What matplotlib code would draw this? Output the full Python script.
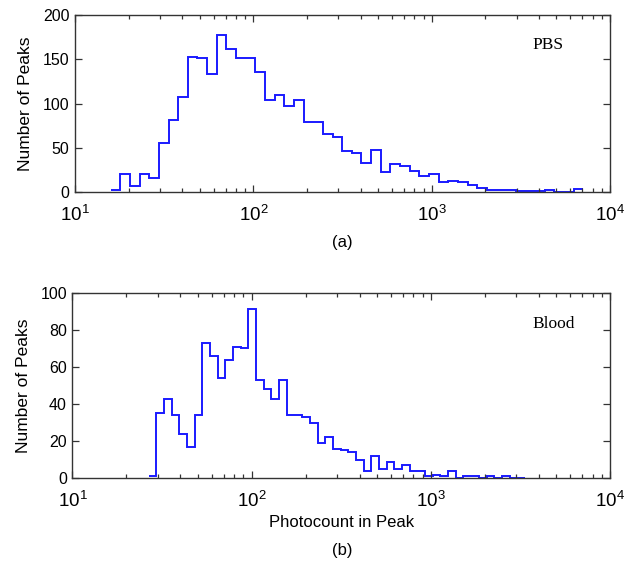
import numpy as np
import matplotlib
matplotlib.use("Agg")
from matplotlib import pyplot as plt
from matplotlib.ticker import LogLocator, NullFormatter, FuncFormatter

plt.rcParams['font.family'] = ['Liberation Sans', 'DejaVu Sans']
plt.rcParams['mathtext.fontset'] = 'custom'
plt.rcParams['mathtext.rm'] = 'Liberation Sans'

# histogram counts (log-spaced bins)
pbs_counts = [3, 20, 7, 20, 16, 55, 82, 107, 153, 151, 133, 177, 162, 151, 151,
              136, 104, 110, 97, 104, 79, 79, 66, 62, 47, 44, 33, 48, 23, 32,
              30, 24, 18, 20, 12, 13, 11, 8, 5, 2, 3, 3, 1, 1, 1, 2, 0, 0, 4]
pbs_range = (1.20, 3.85)   # log10 of first / last bin edge

blood_counts = [1, 35, 43, 34, 24, 17, 34, 73, 66, 54, 64, 71, 70, 91, 53, 48,
                43, 53, 34, 34, 33, 30, 19, 22, 16, 15, 14, 10, 4, 12, 5, 9, 5,
                7, 4, 4, 1, 2, 1, 4, 0, 1, 1, 0, 1, 0, 1, 0, 0]
blood_range = (1.425, 3.525)

panels = [
    dict(counts=pbs_counts, rng=pbs_range, label="PBS", ymax=200, ystep=50,
         pos=[0.1194, 0.661, 0.852, 0.3127], xlabel=None),
    dict(counts=blood_counts, rng=blood_range, label="Blood", ymax=100, ystep=20,
         pos=[0.1154, 0.1564, 0.856, 0.3273], xlabel="Photocount in Peak"),
]

fig = plt.figure(figsize=(6.28, 5.67), dpi=100)
pow10 = FuncFormatter(lambda v, pos: r"$\mathdefault{10^{%d}}$" % round(np.log10(v)))

for p in panels:
    ax = fig.add_axes(p["pos"])
    edges = np.logspace(p["rng"][0], p["rng"][1], len(p["counts"]) + 1)
    ax.stairs(p["counts"], edges, baseline=None, color="#1a1aff", lw=1.4)
    ax.set_xscale("log")
    ax.set_xlim(10, 1e4)
    ax.set_ylim(0, p["ymax"])
    ax.set_yticks(np.arange(0, p["ymax"] + 1, p["ystep"]))
    ax.xaxis.set_major_locator(LogLocator(base=10, numticks=10))
    ax.xaxis.set_major_formatter(pow10)
    ax.xaxis.set_minor_locator(LogLocator(base=10, subs=np.arange(2, 10), numticks=20))
    ax.xaxis.set_minor_formatter(NullFormatter())
    ax.tick_params(which="both", direction="in", top=True, right=True,
                   width=0.9, color="#333333")
    ax.tick_params(which="major", length=5)
    ax.tick_params(which="minor", length=3)
    ax.tick_params(axis="y", labelsize=11.5, pad=4)
    ax.tick_params(axis="x", labelsize=13.5, pad=9)
    for s in ax.spines.values():
        s.set_color("#333333")
        s.set_linewidth(1.0)
    ax.set_ylabel("Number of Peaks", fontsize=12.5, labelpad=7)
    ax.text(0.855, 0.83, p["label"], transform=ax.transAxes, fontsize=12.5,
            family="Liberation Serif", ha="left", va="center")
    if p["xlabel"]:
        ax.set_xlabel(p["xlabel"], fontsize=12, labelpad=3)

fig.text(0.545, 1 - 243 / 567, "(a)", ha="center", va="center", fontsize=12)
fig.text(0.545, 1 - 550 / 567, "(b)", ha="center", va="center", fontsize=12)

fig.savefig("out.png", dpi=100)
